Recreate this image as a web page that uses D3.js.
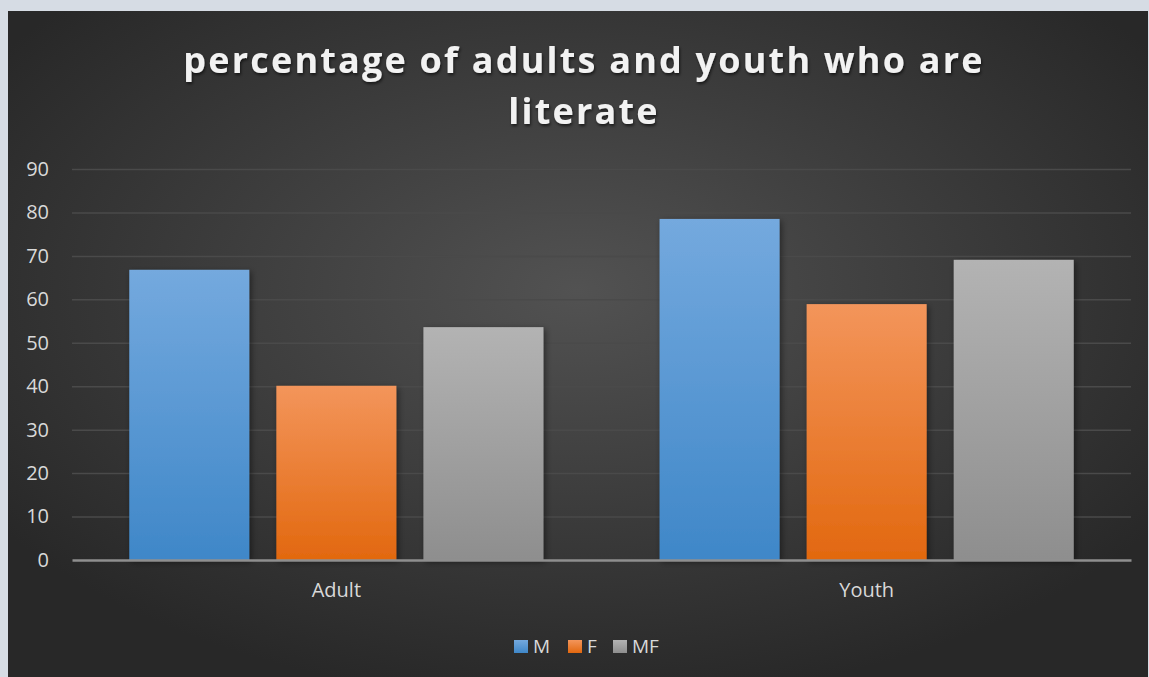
<!DOCTYPE html>
<html>
<head>
<meta charset="utf-8">
<script src="https://cdn.jsdelivr.net/npm/d3@7/dist/d3.min.js"></script>
<style>
  html, body { margin: 0; padding: 0; background: #d6dce4; }
  svg { display: block; }
</style>
</head>
<body>
<svg id="chart" width="1149" height="677"></svg>
<script>
// Literacy rates (%) by group and sex
const categories = ["Adult", "Youth"];
const seriesNames = ["M", "F", "MF"];
const valuesM = [66.8, 78.5];
const valuesF = [40.1, 58.9];
const valuesMF = [53.6, 69.1];
const yTicks = [0, 10, 20, 30, 40, 50, 60, 70, 80, 90];
const titleLines = ["percentage of adults and youth who are", "literate"];

const seriesValues = { M: valuesM, F: valuesF, MF: valuesMF };
const colors = {
  M: ["#74a9de", "#3f87c8"],
  F: ["#f3955b", "#e2680f"],
  MF: ["#b3b3b3", "#8e8e8e"]
};

const svg = d3.select("#chart");
const W = 1149, H = 677;
const defs = svg.append("defs");

// background radial gradient
const bg = defs.append("radialGradient").attr("id", "bg")
  .attr("cx", "50%").attr("cy", "42%").attr("r", "62%")
  .attr("gradientUnits", "objectBoundingBox");
bg.append("stop").attr("offset", "0%").attr("stop-color", "#525252");
bg.append("stop").attr("offset", "100%").attr("stop-color", "#282828");

seriesNames.forEach(s => {
  const g = defs.append("linearGradient").attr("id", "g-" + s)
    .attr("x1", 0).attr("y1", 0).attr("x2", 0).attr("y2", 1);
  g.append("stop").attr("offset", "0%").attr("stop-color", colors[s][0]);
  g.append("stop").attr("offset", "100%").attr("stop-color", colors[s][1]);
});

const shadow = defs.append("filter").attr("id", "shadow")
  .attr("x", "-20%").attr("y", "-20%").attr("width", "150%").attr("height", "150%");
shadow.append("feDropShadow").attr("dx", 2).attr("dy", 2)
  .attr("stdDeviation", 3).attr("flood-color", "#000").attr("flood-opacity", 0.45);

const tshadow = defs.append("filter").attr("id", "tshadow")
  .attr("x", "-5%").attr("y", "-20%").attr("width", "110%").attr("height", "150%");
tshadow.append("feDropShadow").attr("dx", 1).attr("dy", 2)
  .attr("stdDeviation", 1.5).attr("flood-color", "#000").attr("flood-opacity", 0.6);

svg.append("rect").attr("x", 8).attr("y", 11).attr("width", W - 9).attr("height", H - 11)
  .attr("fill", "url(#bg)");

// scales
const plot = { left: 72, right: 1131, top: 169, bottom: 560 };
const y = d3.scaleLinear().domain([0, 90]).range([plot.bottom, plot.top]);
const x0 = d3.scaleBand().domain(categories).range([plot.left, plot.right]).paddingInner(0.219).paddingOuter(0.108);
const x1 = d3.scaleBand().domain(seriesNames).range([0, x0.bandwidth()]).paddingInner(0.184);

const labelFont = "'Open Sans', sans-serif";

// gridlines
const grid = svg.append("g").attr("transform", `translate(${plot.left},0)`)
  .call(d3.axisLeft(y).tickValues(yTicks.filter(t => t > 0))
    .tickSize(-(plot.right - plot.left)).tickFormat(""));
grid.select(".domain").remove();
grid.selectAll("line").attr("stroke", "#4a4a4a").attr("stroke-width", 1.5);

// y labels
const yAxis = svg.append("g").attr("transform", `translate(${plot.left},0)`)
  .call(d3.axisLeft(y).tickValues(yTicks).tickSize(0).tickPadding(23));
yAxis.select(".domain").remove();
yAxis.selectAll("text").attr("fill", "#d9d9d9")
  .style("font-family", labelFont).style("font-size", "20px");

// bars
const groups = svg.append("g").selectAll("g").data(categories).join("g")
  .attr("transform", d => `translate(${x0(d)},0)`);
groups.selectAll("rect")
  .data((c, i) => seriesNames.map(s => ({ s, v: seriesValues[s][i] })))
  .join("rect")
  .attr("x", d => x1(d.s))
  .attr("y", d => y(d.v))
  .attr("width", x1.bandwidth())
  .attr("height", d => y(0) - y(d.v))
  .attr("fill", d => `url(#g-${d.s})`)
  .attr("filter", "url(#shadow)");

// x axis
const xAxis = svg.append("g").attr("transform", `translate(0,${plot.bottom})`)
  .call(d3.axisBottom(x0).tickSize(0).tickPadding(23));
xAxis.select(".domain").attr("stroke", "#8f8f8f").attr("stroke-width", 2.5);
xAxis.selectAll("text").attr("fill", "#d9d9d9")
  .style("font-family", labelFont).style("font-size", "20px");

// title
const title = svg.append("text").attr("text-anchor", "middle")
  .attr("fill", "#f2f2f2").attr("filter", "url(#tshadow)")
  .style("font-family", labelFont).style("font-weight", 700)
  .style("font-size", "36px").style("letter-spacing", "2.2px");
title.selectAll("tspan").data(titleLines).join("tspan")
  .attr("x", 584).attr("y", (d, i) => 73 + i * 51).text(d => d);

// legend
const legend = svg.append("g");
const legendX = [514, 568, 613];
seriesNames.forEach((s, i) => {
  legend.append("rect").attr("x", legendX[i]).attr("y", 640).attr("width", 14).attr("height", 13)
    .attr("fill", `url(#g-${s})`);
  legend.append("text").attr("x", legendX[i] + 19).attr("y", 653)
    .attr("fill", "#d9d9d9").style("font-family", labelFont)
    .style("font-size", "19px").text(s);
});
</script>
</body>
</html>
